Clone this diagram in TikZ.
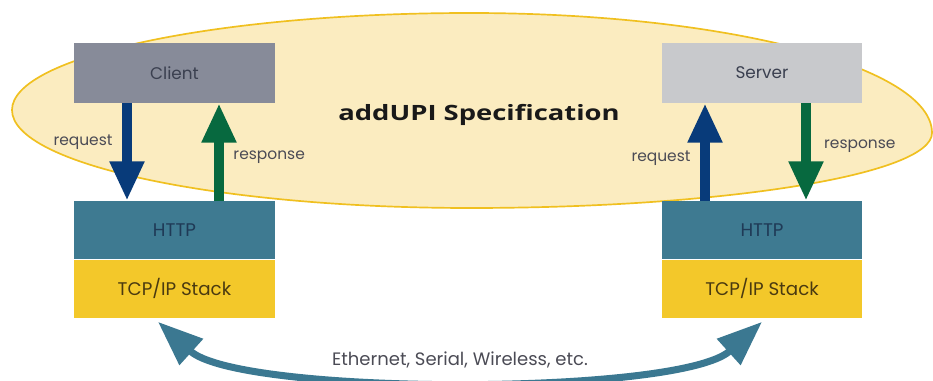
\documentclass[tikz,border=0pt]{standalone}
\usepackage{fontspec}
\setmainfont{Poppins}
\newfontfamily\titlefont[FakeStretch=1.3]{Open Sans}
\usetikzlibrary{arrows.meta,positioning,calc}

\definecolor{ovalfill}{HTML}{FBECC0}
\definecolor{ovalline}{HTML}{F0C020}
\definecolor{clientgray}{HTML}{878B99}
\definecolor{servergray}{HTML}{C8C9CC}
\definecolor{httpteal}{HTML}{3E7A91}
\definecolor{tcpyellow}{HTML}{F3C82A}
\definecolor{reqblue}{HTML}{083B7A}
\definecolor{respgreen}{HTML}{07693F}
\definecolor{linkteal}{HTML}{3B7891}
\definecolor{boxtext}{HTML}{3B4050}
\definecolor{httptext}{HTML}{1F3A56}
\definecolor{tcptext}{HTML}{4A3A10}
\definecolor{labelgray}{HTML}{4B4B55}

\begin{document}
\begin{tikzpicture}[x=0.025cm, y=0.025cm,
    box/.style = {minimum width=5cm, minimum height=1.5cm, inner sep=0pt, font=\fontsize{12}{14}\selectfont},
    layer/.style = {box, minimum height=1.45cm, font=\fontsize{13}{15}\selectfont},
    flow/.style = {line width=7.8pt, -{Triangle[length=28pt,width=23pt]}},
    link/.style = {line width=5pt, linkteal, {Triangle[length=32pt,width=24pt]}-{Triangle[length=32pt,width=24pt]}},
    lbl/.style = {text=labelgray, font=\fontsize{11}{13}\selectfont, inner sep=2pt}]

    \useasboundingbox (0,0) rectangle (933,381);

    % specification oval
    \draw[ovalline, line width=1.2pt, fill=ovalfill] (12,271)
        arc[start angle=180, end angle=90, x radius=458, y radius=97]
        arc[start angle=90, end angle=0, x radius=462, y radius=120]
        arc[start angle=0, end angle=-90, x radius=462, y radius=75]
        arc[start angle=270, end angle=180, x radius=458, y radius=98] -- cycle;
    \node[font=\titlefont\bfseries\fontsize{15}{18}\selectfont, text=black!90] (spec) at (479,266) {addUPI Specification};

    % endpoints
    \node[box, fill=clientgray, text=boxtext] (client) at (174.5,308) {Client};
    \node[box, fill=servergray, text=boxtext] (server) at (762,308) {Server};

    % stacks
    \node[layer, fill=httpteal, text=httptext] (lhttp) at (174.5,151) {HTTP};
    \node[layer, fill=tcpyellow, text=tcptext, below=0pt of lhttp] (ltcp) {TCP/IP Stack};
    \node[layer, fill=httpteal, text=httptext] (rhttp) at (762,151) {HTTP};
    \node[layer, fill=tcpyellow, text=tcptext, below=0pt of rhttp] (rtcp) {TCP/IP Stack};

    % request / response
    \draw[flow, reqblue] ($(client.south)+(-47.5,0)$) -- ($(lhttp.north)+(-47.5,0)$)
        node[lbl, pos=0.4, left=4.4pt] {request};
    \draw[flow, respgreen] ($(lhttp.north)+(44.5,0)$) -- ($(client.south)+(44.5,0)$)
        node[lbl, pos=0.45, right=4.4pt] {response};
    \draw[flow, reqblue] ($(rhttp.north)+(-57,0)$) -- ($(server.south)+(-57,0)$)
        node[lbl, pos=0.44, left=4.4pt] {request};
    \draw[flow, respgreen] ($(server.south)+(44,0)$) -- ($(rhttp.north)+(44,0)$)
        node[lbl, pos=0.44, right=7pt] {response};

    % physical link
    \draw[link] ($(ltcp.south)+(-16.5,-4)$) .. controls (240,-15) and (680,-15) .. ($(rtcp.south)+(0,-4)$)
        node[lbl, midway, above=2.5pt, font=\fontsize{12.8}{15}\selectfont] {Ethernet, Serial, Wireless, etc.};

\end{tikzpicture}
\end{document}
